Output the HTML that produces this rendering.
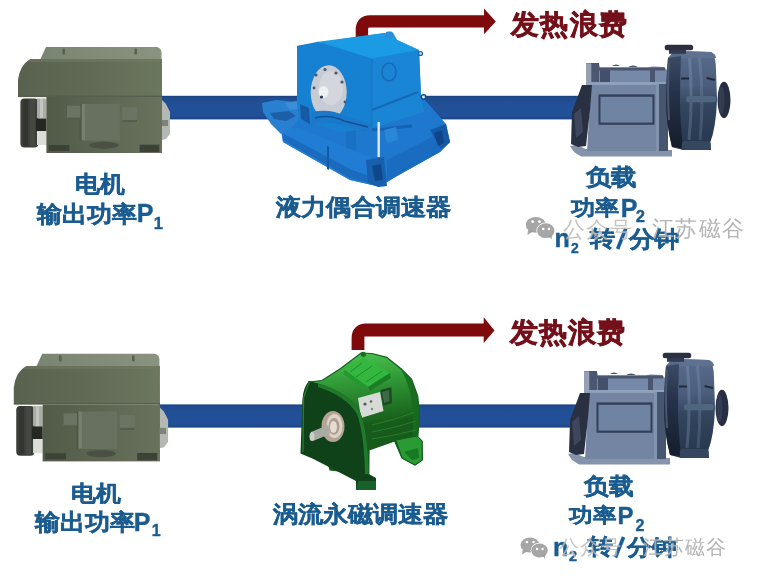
<!DOCTYPE html>
<html><head><meta charset="utf-8">
<style>
html,body{margin:0;padding:0;background:#fff;}
body{width:759px;height:579px;position:relative;overflow:hidden;font-family:"Liberation Sans",sans-serif;}
svg.bg{position:absolute;left:0;top:0;}
#wrap{position:absolute;left:0;top:0;width:759px;height:579px;filter:blur(0.55px);}
.t{position:absolute;white-space:nowrap;font-weight:bold;color:#1b5c90;line-height:1;-webkit-text-stroke:0.4px #1b5c90;}
.red{-webkit-text-stroke:0.7px #74101a;}
.red{color:#74101a;}
.wm{position:absolute;white-space:nowrap;color:rgba(160,160,160,0.8);font-weight:normal;line-height:1;text-shadow:0 0 1px rgba(255,255,255,0.7);}
.c{transform-origin:0 0;}
</style></head>
<body>
<div id="wrap">
<svg class="bg" width="759" height="579" viewBox="0 0 759 579">
<defs>
  <linearGradient id="mtop" gradientUnits="userSpaceOnUse" x1="40" y1="0" x2="162" y2="0">
    <stop offset="0" stop-color="#7a8472"/><stop offset="1" stop-color="#89937f"/>
  </linearGradient>
  <linearGradient id="mup" gradientUnits="userSpaceOnUse" x1="18" y1="0" x2="162" y2="0">
    <stop offset="0" stop-color="#59624e"/><stop offset="0.5" stop-color="#616a55"/><stop offset="1" stop-color="#6c775f"/>
  </linearGradient>
  <linearGradient id="mlow" gradientUnits="userSpaceOnUse" x1="46" y1="0" x2="162" y2="0">
    <stop offset="0" stop-color="#525b47"/><stop offset="1" stop-color="#68725d"/>
  </linearGradient>
  <linearGradient id="volL" x1="0" y1="0" x2="0" y2="1">
    <stop offset="0" stop-color="#3b4a64"/>
    <stop offset="0.4" stop-color="#26324a"/>
    <stop offset="1" stop-color="#151d2b"/>
  </linearGradient>
  <linearGradient id="barg" x1="0" y1="0" x2="0" y2="1">
    <stop offset="0" stop-color="#1c427f"/>
    <stop offset="0.12" stop-color="#214d92"/>
    <stop offset="0.5" stop-color="#225098"/>
    <stop offset="0.85" stop-color="#225098"/>
    <stop offset="1" stop-color="#1c4280"/>
  </linearGradient>
  <linearGradient id="volg" x1="0" y1="0" x2="0" y2="1">
    <stop offset="0" stop-color="#5a6c8b"/>
    <stop offset="0.35" stop-color="#4b5d7c"/>
    <stop offset="0.55" stop-color="#34465f"/>
    <stop offset="1" stop-color="#24354b"/>
  </linearGradient>
  <linearGradient id="gbody" gradientUnits="userSpaceOnUse" x1="0" y1="355" x2="12" y2="465">
    <stop offset="0" stop-color="#45c24b"/>
    <stop offset="0.3" stop-color="#4cc651"/>
    <stop offset="0.55" stop-color="#35a03a"/>
    <stop offset="0.8" stop-color="#237a28"/>
    <stop offset="1" stop-color="#175a1b"/>
  </linearGradient>
  <g id="motor">
    <!-- top box -->
    <path d="M46,47 L157,47 Q161,48 161.5,52 L161.5,60 L40,60 Z" fill="url(#mtop)"/>
    <rect x="62.5" y="48.5" width="2.5" height="6" rx="1.2" fill="#586050"/>
    <rect x="134.5" y="48.5" width="2.5" height="6" rx="1.2" fill="#586050"/>
    <!-- upper housing -->
    <path d="M30.5,59 L162,59 L162,96.5 L18,96.5 L18,80 Q19,73 21.5,68 Q25,62 30.5,59 Z" fill="url(#mup)"/>
    <path d="M30.5,59 L162,59 L162,62 L28,62 Z" fill="#707a64" opacity="0.6"/>
    <rect x="18" y="95.5" width="144" height="1.6" fill="#565e4d"/>
    <!-- wheel -->
    <rect x="20.4" y="98.5" width="18" height="49" rx="4" fill="#3c3f3a"/>
    <rect x="23" y="99" width="5" height="47" fill="#333630"/>
    <rect x="30" y="99" width="5" height="47" fill="#464943"/>
    <rect x="37" y="98.5" width="9.5" height="20" fill="#a9ada6"/>
    <rect x="40" y="99" width="3" height="19" fill="#c4c7c1"/>
    <rect x="36" y="118.5" width="10.5" height="12.5" fill="#252723"/>
    <rect x="37" y="131" width="9.5" height="14" fill="#dcdfd9"/>
    <!-- lower body -->
    <rect x="46.4" y="97" width="115.6" height="56" fill="url(#mlow)"/>
    <rect x="81" y="103.8" width="38.8" height="37" fill="#687160"/>
    <rect x="79.5" y="104" width="2" height="37" fill="#515848"/>
    <rect x="82" y="104" width="3" height="36" fill="#778070"/>
    <rect x="67" y="105.7" width="13.3" height="13.3" fill="#6b7462"/>
    <rect x="67" y="117.5" width="13.3" height="2" fill="#555c4b"/>
    <rect x="122.4" y="107" width="14.6" height="14.6" fill="#6b7462"/>
    <rect x="122.4" y="120" width="14.6" height="2" fill="#555c4b"/>
    <ellipse cx="104" cy="145.3" rx="14.5" ry="3.6" fill="#4a5143"/>
    <rect x="48.8" y="145" width="20.6" height="6" fill="#3c4237"/>
    <rect x="139.6" y="144.7" width="19.7" height="7.3" fill="#3c4237"/>
    <!-- right shaft coupling -->
    <path d="M162,100 L166,104 L170,112 L170,134 L166,139 L162,140 Z" fill="#b4b9b4"/>
    <rect x="162" y="120" width="6" height="6" fill="#7d827b"/>
  </g>
<g id="pump">
    <!-- base plate -->
    <path d="M570,146 L574,152 L581,156.5 L672,156.5 L672,150 L586,149 L576,145 Z" fill="#8593ab"/>
    <!-- bearing housing top -->
    <path d="M586,63 L598.8,63 L600,67.5 L648,67.5 L652,66.5 L664,67 L667,70 L667,85 L586,85 Z" fill="#7789a8"/>
    <path d="M599,67.5 L665,67.5 L665,70.5 L599,70.5 Z" fill="#4a566f"/>
    <path d="M612,66 Q616,63 620,66 Z M628,67 Q633,64 638,67 Z" fill="#46526b"/>
    <rect x="591" y="63" width="8" height="22" fill="#4b5770"/>
    <rect x="600" y="70" width="10" height="13" fill="#44506b"/>
    <rect x="650" y="69" width="5" height="14" fill="#4a5670"/>
    <rect x="586" y="63.8" width="5.3" height="21.2" fill="#95a0b5"/>
    <!-- light band -->
    <rect x="588" y="82" width="80" height="3.2" fill="#8fa1ba"/>
    <!-- frame front face -->
    <path d="M591,85 L661,85 L661,151 L587,151 Z" fill="#7385a2"/>
    <rect x="656" y="84" width="3" height="67" fill="#8193ae"/>
    <rect x="659" y="84" width="9" height="67" fill="#46566f"/>
    <!-- left guard dark -->
    <path d="M582,85 L592,85 L590,110 L586,146 L578,147 L571,144 L572,112 Z" fill="#283042"/>
    <path d="M574,114 L581,108 L583,132 L576,138 Z" fill="#3e475d"/>
    <!-- panel -->
    <rect x="598.5" y="94.4" width="56" height="30.4" fill="#33405a"/>
    <rect x="600.5" y="96.8" width="52" height="25.8" fill="#6f83a2"/>
    <!-- volute -->
    <path d="M668,58 L674,51 L711,52 Q716,56 716,70 L717,100 Q716,128 710,143 L711,150 L683,150 L672,147 Q666,120 666,100 Q666,75 668,58 Z" fill="url(#volg)"/>
    <path d="M668,58 Q666,80 666,100 Q666,125 672,147 L683,148 Q680,120 680,100 Q680,78 681,56 Z" fill="url(#volL)"/>
    <path d="M669,62 Q667,90 669,120" stroke="#4a5570" stroke-width="2" fill="none"/>
    <path d="M681,51 L711,52 Q716,54 716,58 L681,58 Z" fill="#5f7190"/>
    <path d="M689.5,58 Q693,100 689,140" stroke="rgba(160,180,210,0.25)" stroke-width="3" fill="none"/>
    <path d="M699.5,58 Q704,100 700,140" stroke="rgba(160,180,210,0.2)" stroke-width="3" fill="none"/>
    <path d="M681,78.5 L689,78.5" stroke="#222a3a" stroke-width="2"/>
    <path d="M706.6,78 L715,80" stroke="#222a3a" stroke-width="2"/>
    <rect x="681.8" y="141" width="29" height="9" rx="3" fill="#34475e"/>
    <rect x="664.7" y="44.7" width="28.5" height="5.5" rx="2.5" fill="#2a3042"/>
    <rect x="669" y="49.8" width="17" height="4" fill="#323a4f"/>
    <rect x="686" y="96" width="30" height="6.3" rx="2.5" fill="#50657f"/>
    <ellipse cx="724" cy="100" rx="6.5" ry="18.2" fill="#272e41"/>
    <ellipse cx="721.5" cy="100" rx="3" ry="14" fill="#343c52"/>
  </g>
</defs>

<!-- top row -->
<rect x="160" y="95.8" width="420" height="23.6" fill="url(#barg)"/>
<use href="#motor"/>
<!-- coupling top -->
<!-- red arrow top -->
<path d="M361.9,38 L361.9,30 Q361.9,21.4 370,21.4 L486,21.4" stroke="#7f0a0b" stroke-width="12.4" fill="none"/>
<polygon points="484,8.5 495.8,21.4 484,34.2" fill="#7f0a0b"/>
<g id="coupling">
  <!-- base -->
  <path d="M280,126 L297,112 L423,98 L432,108 L446,124 L450,142 L440,152 L397,176 L379,187 L368,184 L350,180 L283,142 Z" fill="#1e78cd"/>
  <path d="M281,127 L300,128 L352,150 L372,158 L372,185 L350,180 L283,142 Z" fill="#207dd3"/>
  <path d="M283,140 L350,178 L368,183 L369,176 L352,170 L284,134 Z" fill="#1a6bbd"/>
  <path d="M327,146 L329,147 L329,170 L327,169 Z" fill="#1459a6"/>
  <path d="M366,160 L384,157 L387,186 L379,187 L368,183 Z" fill="#1760ad"/>
  <path d="M372,166 L381,164 L383,180 L375,181 Z" fill="#10478a"/>
  <path d="M387,160 L446,130 L450,142 L440,152 L397,176 L387,182 Z" fill="#1a6cc0"/>
  <path d="M430,130 L446,124 L450,142 L441,149 Z" fill="#1559a6"/>
  <path d="M434,133 L442,130 L444,143 L438,146 Z" fill="#0f4588"/>
  <!-- pedestal & pipes -->
  <path d="M346,122 L356,120 L356,150 L346,148 Z" fill="#1a70c3"/>
  <path d="M352,126 Q370,132 392,128 L412,126" stroke="#1563b3" stroke-width="3" fill="none"/>
  <path d="M384,130 L396,127 L398,140 L387,143 Z" fill="#2a86d6"/>
  <!-- left pipe stub -->
  <path d="M262,103 L276,100 L297,102 L299,120 L291,128 L281,134 L271,124 L263,112 Z" fill="#2a80d0"/>
  <path d="M270,113 L289,111 L296,116 L286,121 L274,119 Z" fill="#1d5fa6"/>
  <path d="M285,103 L297,101 L298,109 L290,110 Z" fill="#3b8fd8"/>
  <path d="M297,46 L355,37 L385,33 L393,33 L397,40 L419,50 L421,96 L424,112 L372,128 L340,132 L300,118 L297,105 Z" fill="#1d84d5"/>
  <!-- box front face -->
  <path d="M297,46 L318,41.8 L372,58.5 L372,128 L340,132 L300,118 L297,105 Z" fill="#1781d1"/>
  <!-- right face -->
  <path d="M372,58.5 L419,50 L421,96 L424,112 L372,128 Z" fill="#1b85d5"/>
  <!-- top face -->
  <path d="M318,41.8 L355,37 L385,33 L393,33 L397,40 L419,50 L372,58.5 Z" fill="#1b9be4"/>
  <rect x="385.5" y="31.5" width="7.5" height="7" rx="2" fill="#2a8fd8"/>
  <!-- ridge lines -->
  <path d="M372,110 L418,92" stroke="#1668b6" stroke-width="2" fill="none"/>
  <path d="M372,59 L372,127" stroke="#1a74c4" stroke-width="1.2" fill="none"/>
  <ellipse cx="389" cy="72" rx="7" ry="9" fill="none" stroke="#1768b6" stroke-width="1.6"/>
  <!-- lugs -->
  <circle cx="420.5" cy="53.5" r="2.6" fill="#1a5fa8"/>
  <circle cx="420.5" cy="53.5" r="1.2" fill="#e8f0f8"/>
  <circle cx="423.5" cy="97" r="3" fill="#154f92"/>
  <circle cx="423.5" cy="97" r="1.4" fill="#e8f0f8"/>
  <!-- disc -->
  <ellipse cx="328.7" cy="92.3" rx="18" ry="27" fill="#c7ccd4"/>
  <ellipse cx="331" cy="88" rx="12" ry="17" fill="#d3d7dd"/>
  <ellipse cx="323.5" cy="92" rx="5" ry="6" fill="#eef1f3"/>
  <circle cx="321.5" cy="97" r="1.6" fill="#2b3550"/>
  <g fill="#4a5570">
    <circle cx="316" cy="75" r="1.6"/><circle cx="325" cy="69.5" r="1.6"/><circle cx="336" cy="73" r="1.6"/>
    <circle cx="342" cy="82" r="1.6"/><circle cx="314" cy="88" r="1.4"/><circle cx="345" cy="102" r="1.4"/>
  </g>
  <!-- pipes over disc bottom -->
  <path d="M312,112 Q330,108 345,116 L372,124 L372,132 L344,126 Q328,120 312,124 Z" fill="#1b78cb"/>
  <path d="M315,118 Q330,114 344,121 L368,127" stroke="#125194" stroke-width="1.6" fill="none"/>
  <path d="M300,104 L309,108 L310,124 L301,119 Z" fill="#155aa3"/>
  <!-- rod -->
  <rect x="377.5" y="122" width="2.4" height="35" fill="#e4e8ec"/>
</g>
<use href="#pump"/>

<!-- bottom row -->
<rect x="158" y="404.4" width="420" height="23.2" fill="url(#barg)"/>
<use href="#motor" transform="translate(-4.47,306.1) scale(1.015)"/>
<!-- red arrow bottom -->
<path d="M358,350 L358,338 Q358,330 366,330 L485,330" stroke="#7f0a0b" stroke-width="12.8" fill="none"/>
<polygon points="483.7,317.3 494.5,330.4 483.7,343" fill="#7f0a0b"/>
<!-- eddy coupler -->
<g id="eddy">
  <!-- body -->
  <path d="M308.8,382 L322,380.5 L340.6,368.5 L361,353 L372,353.5 L386.7,357.4 L401,368.8 L411.5,379.2 L417.8,396.3 L419.3,415 L417.8,437 L422,441 L422.3,460 L415,465 L402,458 L394.6,441 L369,450 L368.8,474 L330,470 Z" fill="url(#gbody)" stroke="#125c1d" stroke-width="1.2"/>
  <path d="M401,369 L411.5,379.2 L417.8,396.3 L419.3,415 L417.8,440 L412,441 Q414,410 410,392 Q406,378 401,369Z" fill="#176a1f" opacity="0.85"/>
  <g stroke="#24902f" stroke-width="0.9" fill="none" opacity="0.8">
    <path d="M372,425 Q395,420 415,412"/>
    <path d="M372,432 Q395,428 416,421"/>
    <path d="M372,439 Q393,436 416,430"/>
  </g>
  <!-- top plate -->
  <path d="M344.7,370 L363.3,357.4 L389.8,373 L368,387 Z" fill="#34b73f"/>
  <path d="M368,387 L389.8,373 L391,378 L369.5,391 Z" fill="#1a7e26"/>
  <path d="M344.7,370 L368,387 L369.5,391 L343,374 Z" fill="#239730"/>
  <path d="M350,372 L362,363 M356,377 L372,366 M366,382 L382,371" stroke="#1f8a2b" stroke-width="1" fill="none"/>
  <circle cx="363.3" cy="354.3" r="2.6" fill="#1a6f25"/>
  <!-- terminal window -->
  <path d="M358,398 L380,392 L383.5,411 L361,418 Z" fill="#d6dbd6"/>
  <path d="M380.4,390 L391.3,387 L392,403 L383,406 Z" fill="#1b4a22"/>
  <path d="M382,392 L389,390 L389.5,401 L384,403 Z" fill="#3d6b45"/>
  <circle cx="365" cy="404" r="1.6" fill="#555"/><circle cx="371" cy="401.5" r="1.3" fill="#666"/><circle cx="372" cy="409" r="1.2" fill="#888"/>
  <!-- right foot -->
  <path d="M396,440 L417,436 L422,441 L422.3,460 L415,465 L402,458 Z" fill="#2a9a35" stroke="#125c1d" stroke-width="1"/>
  <path d="M404,452 L418,448 L419,458 L412,460 Z" fill="#157a22"/>
  <!-- front face dark -->
  <path d="M308.8,381 L318,383.5 Q348,392 360,412 Q368,432 368.8,474 L376,478 L376,490 L356,490 L356,481 L313.5,459 L300.5,453.5 L302.4,400 Q303,388 308.8,381 Z" fill="#0f4218"/>
  <path d="M318,383.5 Q348,392 360,412 Q368,432 368.8,474 L365,474 Q364,433 357,414 Q346,396 318,387 Z" fill="#1f7a2a"/>
  <path d="M309,382 L303.5,398 L303,452" stroke="#23802e" stroke-width="1.3" fill="none"/>
  <path d="M358,481 L376,481 L376,490 L356,490 Z" fill="#17622a"/>
  <!-- shaft & flange -->
  <ellipse cx="333" cy="426.5" rx="11.5" ry="15.5" fill="#b3a496"/>
  <ellipse cx="334.5" cy="426" rx="8" ry="12" fill="#ddd3c6"/>
  <ellipse cx="334" cy="426.5" rx="5.5" ry="8.5" fill="#b09f90"/>
  <ellipse cx="333.5" cy="427" rx="3.5" ry="6" fill="#e6ddd2"/>
  <path d="M311,432 L328,425 L330,434 L313,441 Z" fill="#a9aaa4"/>
  <ellipse cx="312" cy="436.5" rx="2.5" ry="4.5" fill="#cdcec8"/>
</g>
<use href="#pump" transform="translate(-2,308)"/>
</svg>

<!-- top labels -->
<div class="t red" style="left:511px;top:11px;font-size:28px;letter-spacing:1.3px;">发热浪费</div>
<div class="t c" style="left:75px;top:173.4px;font-size:25px;transform:scaleY(0.925);">电机</div>
<div class="t c" style="left:37.4px;top:203px;font-size:25px;transform:scaleY(0.92);">输出功率</div>
<div class="t" style="left:136.7px;top:201.3px;font-size:25px;">P</div>
<div class="t" style="left:153.7px;top:214.6px;font-size:16.5px;">1</div>
<div class="t c" style="left:276px;top:196.4px;font-size:25px;transform:scaleY(0.915);">液力偶合调速器</div>
<div class="t c" style="left:586.4px;top:166px;font-size:25px;transform:scaleY(0.9);">负载</div>
<div class="t c" style="left:571.2px;top:197.5px;font-size:24px;transform:scaleY(0.87);">功率</div>
<div class="t" style="left:620.7px;top:196px;font-size:25px;">P</div>
<div class="t" style="left:635.7px;top:207.6px;font-size:16.5px;">2</div>
<div class="t" style="left:554.5px;top:226px;font-size:25px;">n</div>
<div class="t" style="left:571px;top:241px;font-size:14px;">2</div>
<div class="t c" style="left:589.7px;top:228.3px;font-size:25px;transform:scaleY(0.88);">转</div>
<div class="t c" style="left:629.3px;top:227.5px;font-size:25px;transform:scaleY(0.9);">分钟</div>

<!-- bottom labels -->
<div class="t red" style="left:510px;top:318.8px;font-size:28px;letter-spacing:1px;">发热浪费</div>
<div class="t c" style="left:70.5px;top:481.5px;font-size:25px;transform:scaleY(0.885);">电机</div>
<div class="t c" style="left:34.6px;top:511px;font-size:25px;transform:scaleY(0.92);">输出功率</div>
<div class="t" style="left:133.7px;top:509.9px;font-size:25px;">P</div>
<div class="t" style="left:151.7px;top:523px;font-size:16px;">1</div>
<div class="t c" style="left:273.2px;top:502.8px;font-size:25px;transform:scaleY(0.91);">涡流永磁调速器</div>
<div class="t c" style="left:583.7px;top:474px;font-size:25px;transform:scaleY(0.93);">负载</div>
<div class="t c" style="left:569.2px;top:504.9px;font-size:24px;transform:scaleY(0.85);">功率</div>
<div class="t" style="left:617.5px;top:504px;font-size:24px;">P</div>
<div class="t" style="left:635.5px;top:518.4px;font-size:16px;">2</div>
<div class="t" style="left:553.1px;top:534.8px;font-size:25px;">n</div>
<div class="t" style="left:569px;top:549px;font-size:14.5px;">2</div>
<div class="t c" style="left:588.4px;top:536.3px;font-size:25px;transform:scaleY(0.88);">转</div>
<div class="t c" style="left:627.1px;top:536px;font-size:25px;transform:scaleY(0.89);">分钟</div>

<svg class="bg" width="759" height="579" viewBox="0 0 759 579">
  <line x1="625.8" y1="228.5" x2="617.6" y2="249" stroke="#1b5e9c" stroke-width="3.6"/>
  <line x1="623.6" y1="537" x2="615.4" y2="557.5" stroke="#1b5e9c" stroke-width="3.6"/>
  <g id="wmicon" fill="rgba(150,150,150,0.85)">
    <ellipse cx="535.8" cy="224.9" rx="10" ry="7.9"/>
    <path d="M528,230 L527.5,235 L533,231.5Z"/>
    <ellipse cx="545.8" cy="230.7" rx="9.4" ry="8.1" fill="#fff"/>
    <ellipse cx="545.8" cy="230.7" rx="8.7" ry="7.4"/>
    <path d="M549,236 L551.5,239.5 L552,235Z"/>
    <circle cx="532.6" cy="221.7" r="1.4" fill="#fff"/>
    <circle cx="539.5" cy="221.7" r="1.4" fill="#fff"/>
    <circle cx="543.2" cy="229" r="1.3" fill="#fff"/>
    <circle cx="549" cy="229" r="1.3" fill="#fff"/>
  </g>
  <use href="#wmicon" transform="translate(530,545) scale(0.95) translate(-535.8,-224.9) translate(0,0)"/>
</svg>
<div class="wm" style="left:563px;top:219.5px;font-size:21.5px;letter-spacing:1.3px;color:rgba(170,170,170,0.7);">公众号</div>
<div class="wm" style="left:652px;top:218.5px;font-size:21.5px;letter-spacing:1.3px;">江苏磁谷</div>
<div class="wm" style="left:558.5px;top:537px;font-size:20.3px;letter-spacing:1.3px;color:rgba(170,170,170,0.7);">公众号</div>
<div class="wm" style="left:642.5px;top:537px;font-size:20.3px;letter-spacing:1.3px;">江苏磁谷</div>
</div>
</body></html>
